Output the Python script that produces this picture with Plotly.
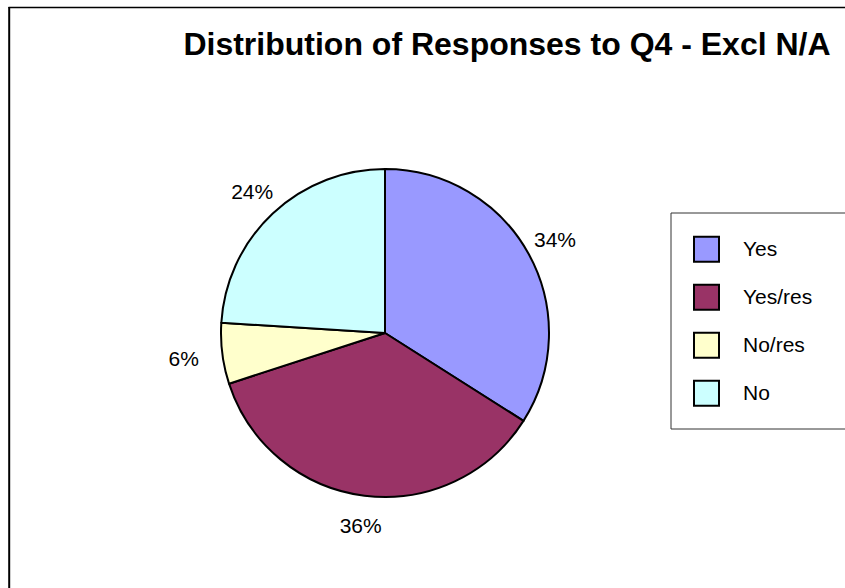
import plotly.graph_objects as go

categories = ["Yes", "Yes/res", "No/res", "No"]
values = [34, 36, 6, 24]
colors = ["#9999FF", "#993366", "#FFFFCC", "#CCFFFF"]
title_text = "Distribution of Responses to Q4 - Excl N/A"

W, H = 845, 588
FONT = "Liberation Sans, Arial, sans-serif"


def px(x):
    return x / W


def py(y):  # y measured from the top, in px
    return 1 - y / H


CX, CY, R = 385, 333, 164      # pie centre and radius (px)
R_LABEL = 241                  # outer radius of the transparent label ring (px)

# legend names: a leading empty line only spaces the legend rows
legend_names = ["<br><span style='font-size:21px'>%s</span>" % c for c in categories]

pie = go.Pie(
    labels=legend_names,
    values=values,
    sort=False,
    direction="clockwise",
    rotation=0,
    marker=dict(colors=colors, line=dict(color="black", width=2)),
    textinfo="none",
    hovertext=categories,
    hoverinfo="text+percent",
    domain=dict(x=[px(CX - R), px(CX + R)], y=[py(CY + R), py(CY - R)]),
    showlegend=True,
)

# transparent ring carrying the percentage labels just outside the pie
ring = go.Pie(
    labels=categories,
    values=values,
    sort=False,
    direction="clockwise",
    rotation=0,
    hole=0.61,
    marker=dict(colors=["rgba(0,0,0,0)"] * len(categories), line=dict(width=0)),
    texttemplate="%{percent:.0%}",
    textposition="inside",
    insidetextorientation="horizontal",
    textfont=dict(family=FONT, size=21, color="black"),
    hoverinfo="skip",
    domain=dict(x=[px(CX - R_LABEL), px(CX + R_LABEL)],
                y=[py(CY + R_LABEL), py(CY - R_LABEL)]),
    showlegend=False,
)

fig = go.Figure([pie, ring])

fig.update_layout(
    width=W,
    height=H,
    margin=dict(l=0, r=0, t=0, b=0),
    paper_bgcolor="white",
    plot_bgcolor="white",
    font=dict(family=FONT, color="black"),
    title=dict(
        text="<b>%s</b>" % title_text,
        font=dict(family=FONT, size=32, color="black"),
        x=px(507),
        xanchor="center",
        y=py(44),
        yanchor="middle",
        xref="paper",
        yref="paper",
    ),
    legend=dict(
        x=px(670),
        xanchor="left",
        y=py(209),
        yanchor="top",
        font=dict(family=FONT, size=17.3, color="black"),
        itemwidth=63,
        valign="bottom",
        borderwidth=0,
        bgcolor="rgba(0,0,0,0)",
    ),
    shapes=[
        # chart frame (top and left edges visible)
        dict(type="line", xref="paper", yref="paper", x0=px(8.5), x1=1.05, y0=py(7.5), y1=py(7.5),
             line=dict(color="black", width=1.5)),
        dict(type="line", xref="paper", yref="paper", x0=px(9.2), x1=px(9.2), y0=py(7), y1=-0.05,
             line=dict(color="black", width=2)),
        # legend box
        dict(type="rect", xref="paper", yref="paper",
             x0=px(671), x1=1.05, y0=py(429), y1=py(213),
             line=dict(color="#333333", width=1), fillcolor="rgba(0,0,0,0)", layer="below"),
    ],
)

post = """
document.body.style.margin = '0';
document.documentElement.style.overflow = 'hidden';
document.body.style.overflow = 'hidden';
var gd = document.getElementById('{plot_id}');
gd.querySelectorAll('path.legendpie').forEach(function(p){
  p.setAttribute('d', 'M12.5,12.5H-12.5V-12.5H12.5Z');
});
"""

fig.write_html("out.html", post_script=post, config={"displayModeBar": False})
